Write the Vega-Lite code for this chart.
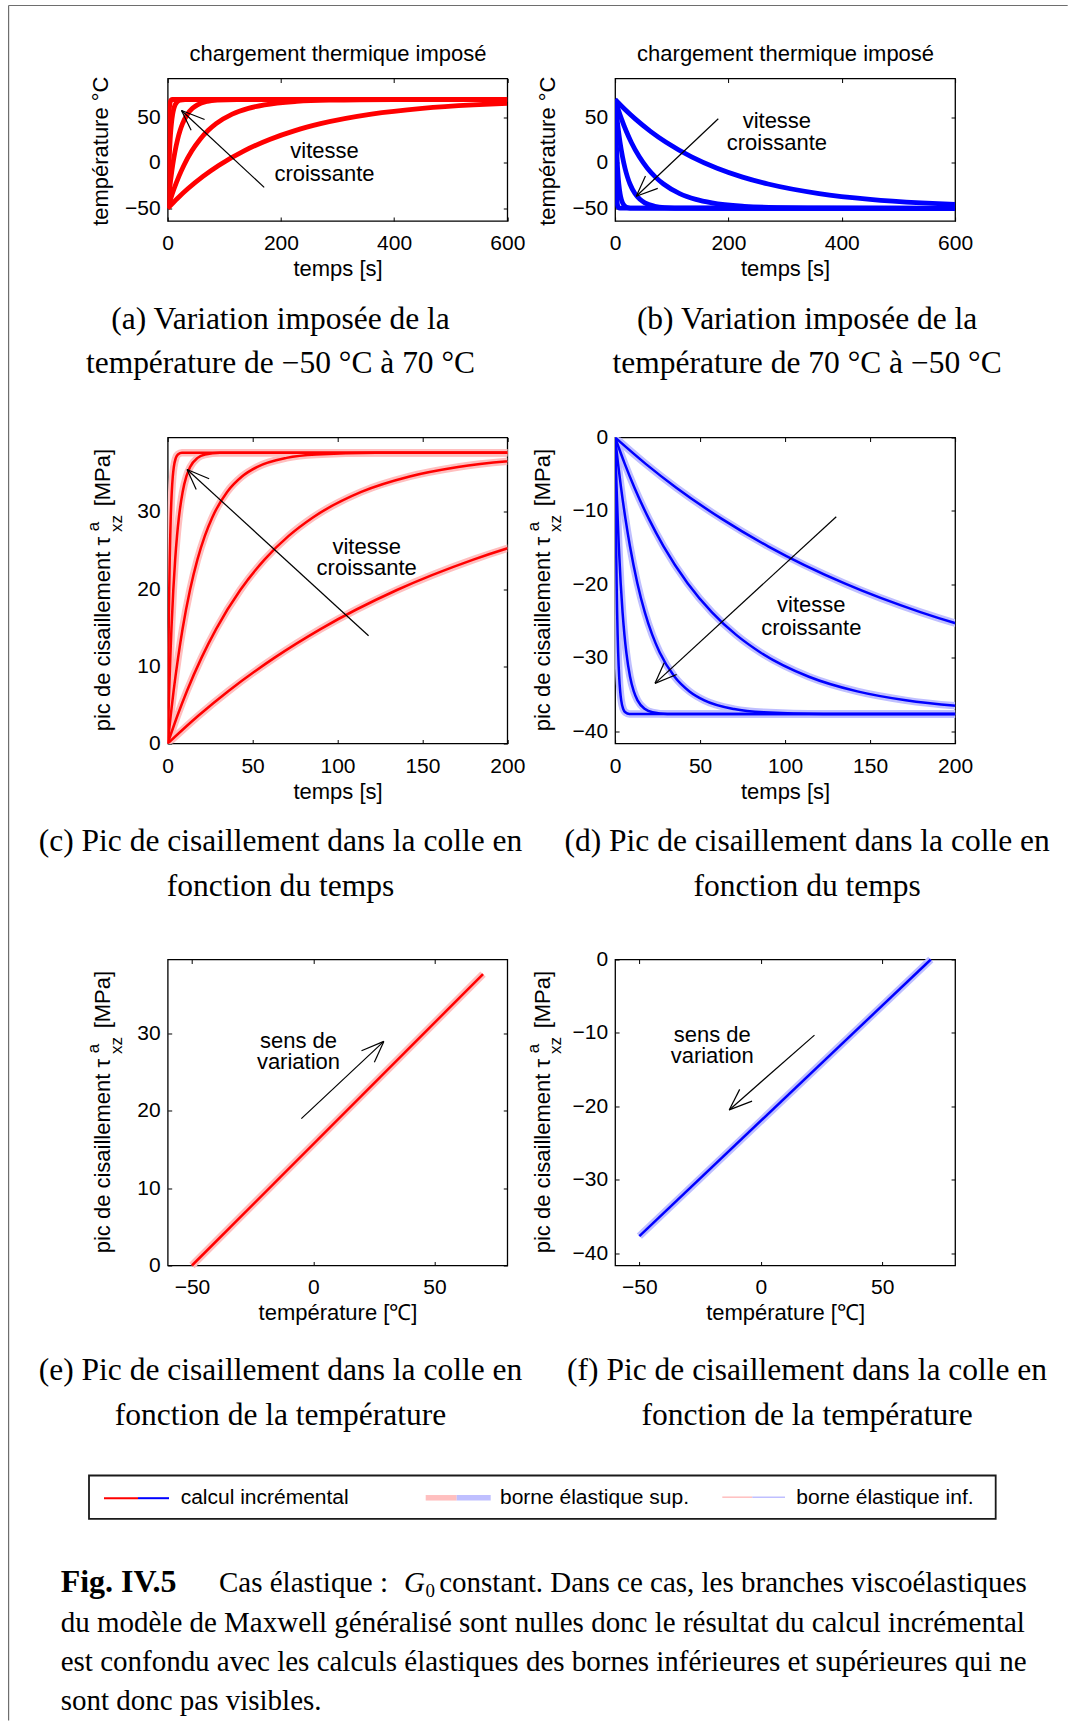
{
"$schema": "https://vega.github.io/schema/vega-lite/v6.json",
"background": "white",
"padding": {"left": 7.7, "top": 4.5, "right": 0, "bottom": 0},
"columns": 2,
"bounds": "flush",
"align": {"row": "each", "column": "none"},
"spacing": {"row": 216, "column": 107.4},
"datasets": {
"rampes": [
{"c":1,"t":0,"Ta":-50,"Tb":70,"cc":0,"cd":0},
{"c":1,"t":18,"Ta":-38.58,"Tb":58.58,"cc":3.59,"cd":-3.59},
{"c":1,"t":36,"Ta":-28.24,"Tb":48.24,"cc":6.84,"cd":-6.84},
{"c":1,"t":63,"Ta":-14.56,"Tb":34.56,"cc":11.13,"cd":-11.13},
{"c":1,"t":90,"Ta":-2.78,"Tb":22.78,"cc":14.83,"cd":-14.83},
{"c":1,"t":135,"Ta":13.31,"Tb":6.69,"cc":19.89,"cd":-19.89},
{"c":1,"t":180,"Ta":25.85,"Tb":-5.85,"cc":23.83,"cd":-23.83},
{"c":1,"t":225,"Ta":35.62,"Tb":-15.62,"cc":26.9,"cd":-26.9},
{"c":1,"t":270,"Ta":43.23,"Tb":-23.23,"cc":29.29,"cd":-29.29},
{"c":1,"t":360,"Ta":53.76,"Tb":-33.76,"cc":32.6,"cd":-32.6},
{"c":1,"t":450,"Ta":60.15,"Tb":-40.15,"cc":34.6,"cd":-34.6},
{"c":1,"t":540,"Ta":64.02,"Tb":-44.02,"cc":35.82,"cd":-35.82},
{"c":1,"t":600,"Ta":65.72,"Tb":-45.72,"cc":36.35,"cd":-36.35},
{"c":2,"t":0,"Ta":-50,"Tb":70,"cc":0,"cd":0},
{"c":2,"t":5.7,"Ta":-38.58,"Tb":58.58,"cc":3.59,"cd":-3.59},
{"c":2,"t":11.4,"Ta":-28.24,"Tb":48.24,"cc":6.84,"cd":-6.84},
{"c":2,"t":19.95,"Ta":-14.56,"Tb":34.56,"cc":11.13,"cd":-11.13},
{"c":2,"t":28.5,"Ta":-2.78,"Tb":22.78,"cc":14.83,"cd":-14.83},
{"c":2,"t":42.75,"Ta":13.31,"Tb":6.69,"cc":19.89,"cd":-19.89},
{"c":2,"t":57,"Ta":25.85,"Tb":-5.85,"cc":23.83,"cd":-23.83},
{"c":2,"t":71.25,"Ta":35.62,"Tb":-15.62,"cc":26.9,"cd":-26.9},
{"c":2,"t":85.5,"Ta":43.23,"Tb":-23.23,"cc":29.29,"cd":-29.29},
{"c":2,"t":114,"Ta":53.76,"Tb":-33.76,"cc":32.6,"cd":-32.6},
{"c":2,"t":142.5,"Ta":60.15,"Tb":-40.15,"cc":34.6,"cd":-34.6},
{"c":2,"t":171,"Ta":64.02,"Tb":-44.02,"cc":35.82,"cd":-35.82},
{"c":2,"t":228,"Ta":67.8,"Tb":-47.8,"cc":37.01,"cd":-37.01},
{"c":2,"t":285,"Ta":69.2,"Tb":-49.2,"cc":37.45,"cd":-37.45},
{"c":2,"t":399,"Ta":69.89,"Tb":-49.89,"cc":37.67,"cd":-37.67},
{"c":2,"t":600,"Ta":70,"Tb":-50,"cc":37.7,"cd":-37.7},
{"c":3,"t":0,"Ta":-50,"Tb":70,"cc":0,"cd":0},
{"c":3,"t":1.75,"Ta":-38.58,"Tb":58.58,"cc":3.59,"cd":-3.59},
{"c":3,"t":3.5,"Ta":-28.24,"Tb":48.24,"cc":6.84,"cd":-6.84},
{"c":3,"t":6.13,"Ta":-14.56,"Tb":34.56,"cc":11.13,"cd":-11.13},
{"c":3,"t":8.75,"Ta":-2.78,"Tb":22.78,"cc":14.83,"cd":-14.83},
{"c":3,"t":13.13,"Ta":13.31,"Tb":6.69,"cc":19.89,"cd":-19.89},
{"c":3,"t":17.5,"Ta":25.85,"Tb":-5.85,"cc":23.83,"cd":-23.83},
{"c":3,"t":21.88,"Ta":35.62,"Tb":-15.62,"cc":26.9,"cd":-26.9},
{"c":3,"t":26.25,"Ta":43.23,"Tb":-23.23,"cc":29.29,"cd":-29.29},
{"c":3,"t":35,"Ta":53.76,"Tb":-33.76,"cc":32.6,"cd":-32.6},
{"c":3,"t":43.75,"Ta":60.15,"Tb":-40.15,"cc":34.6,"cd":-34.6},
{"c":3,"t":52.5,"Ta":64.02,"Tb":-44.02,"cc":35.82,"cd":-35.82},
{"c":3,"t":70,"Ta":67.8,"Tb":-47.8,"cc":37.01,"cd":-37.01},
{"c":3,"t":87.5,"Ta":69.2,"Tb":-49.2,"cc":37.45,"cd":-37.45},
{"c":3,"t":122.5,"Ta":69.89,"Tb":-49.89,"cc":37.67,"cd":-37.67},
{"c":3,"t":600,"Ta":70,"Tb":-50,"cc":37.7,"cd":-37.7},
{"c":4,"t":0,"Ta":-50,"Tb":70,"cc":0,"cd":0},
{"c":4,"t":0.44,"Ta":-38.58,"Tb":58.58,"cc":3.59,"cd":-3.59},
{"c":4,"t":0.88,"Ta":-28.24,"Tb":48.24,"cc":6.84,"cd":-6.84},
{"c":4,"t":1.54,"Ta":-14.56,"Tb":34.56,"cc":11.13,"cd":-11.13},
{"c":4,"t":2.2,"Ta":-2.78,"Tb":22.78,"cc":14.83,"cd":-14.83},
{"c":4,"t":3.3,"Ta":13.31,"Tb":6.69,"cc":19.89,"cd":-19.89},
{"c":4,"t":4.4,"Ta":25.85,"Tb":-5.85,"cc":23.83,"cd":-23.83},
{"c":4,"t":5.5,"Ta":35.62,"Tb":-15.62,"cc":26.9,"cd":-26.9},
{"c":4,"t":6.6,"Ta":43.23,"Tb":-23.23,"cc":29.29,"cd":-29.29},
{"c":4,"t":8.8,"Ta":53.76,"Tb":-33.76,"cc":32.6,"cd":-32.6},
{"c":4,"t":11,"Ta":60.15,"Tb":-40.15,"cc":34.6,"cd":-34.6},
{"c":4,"t":13.2,"Ta":64.02,"Tb":-44.02,"cc":35.82,"cd":-35.82},
{"c":4,"t":17.6,"Ta":67.8,"Tb":-47.8,"cc":37.01,"cd":-37.01},
{"c":4,"t":22,"Ta":69.2,"Tb":-49.2,"cc":37.45,"cd":-37.45},
{"c":4,"t":30.8,"Ta":69.89,"Tb":-49.89,"cc":37.67,"cd":-37.67},
{"c":4,"t":600,"Ta":70,"Tb":-50,"cc":37.7,"cd":-37.7},
{"c":5,"t":0,"Ta":-50,"Tb":70,"cc":0,"cd":0},
{"c":5,"t":0.12,"Ta":-38.58,"Tb":58.58,"cc":3.59,"cd":-3.59},
{"c":5,"t":0.24,"Ta":-28.24,"Tb":48.24,"cc":6.84,"cd":-6.84},
{"c":5,"t":0.42,"Ta":-14.56,"Tb":34.56,"cc":11.13,"cd":-11.13},
{"c":5,"t":0.6,"Ta":-2.78,"Tb":22.78,"cc":14.83,"cd":-14.83},
{"c":5,"t":0.9,"Ta":13.31,"Tb":6.69,"cc":19.89,"cd":-19.89},
{"c":5,"t":1.2,"Ta":25.85,"Tb":-5.85,"cc":23.83,"cd":-23.83},
{"c":5,"t":1.5,"Ta":35.62,"Tb":-15.62,"cc":26.9,"cd":-26.9},
{"c":5,"t":1.8,"Ta":43.23,"Tb":-23.23,"cc":29.29,"cd":-29.29},
{"c":5,"t":2.4,"Ta":53.76,"Tb":-33.76,"cc":32.6,"cd":-32.6},
{"c":5,"t":3,"Ta":60.15,"Tb":-40.15,"cc":34.6,"cd":-34.6},
{"c":5,"t":3.6,"Ta":64.02,"Tb":-44.02,"cc":35.82,"cd":-35.82},
{"c":5,"t":4.8,"Ta":67.8,"Tb":-47.8,"cc":37.01,"cd":-37.01},
{"c":5,"t":6,"Ta":69.2,"Tb":-49.2,"cc":37.45,"cd":-37.45},
{"c":5,"t":8.4,"Ta":69.89,"Tb":-49.89,"cc":37.67,"cd":-37.67},
{"c":5,"t":600,"Ta":70,"Tb":-50,"cc":37.7,"cd":-37.7}
],
"lineaire": [
{"T":-50,"ce":0,"cf":-37.7},
{"T":70,"ce":37.7,"cf":0}
]
},
"concat": [
{
"width": 339.6, "height": 142.5,
"title": {"text": ["(a) Variation imposée de la", "température de −50 °C à 70 °C"], "dx": -57, "offset": 24},
"resolve": {"axis": {"x": "independent", "y": "independent"}},
"layer": [
{"data": {"name": "rampes"},
 "mark": {"type": "line", "stroke": "#ff0000", "strokeWidth": 4.8, "clip": true, "interpolate": "monotone"},
 "encoding": {
  "x": {"field": "t", "type": "quantitative", "scale": {"domain": [0, 600]}, "axis": {"orient": "bottom", "values": [0,200,400,600], "title": "temps [s]", "titleX": 169.8, "titleY": 54.5, "titleAlign": "center", "titleBaseline": "alphabetic", "titleAngle": 0}},
  "y": {"field": "Ta", "type": "quantitative", "scale": {"domain": [-64, 93]}, "axis": {"orient": "left", "values": [-50,0,50], "title": "température °C", "titleX": -60.2, "titleY": 72.2, "titleAngle": 270, "titleAlign": "center", "titleBaseline": "alphabetic"}},
  "detail": {"field": "c", "type": "nominal"}}},
{"data": {"values": [{}]}, "mark": "rule",
 "encoding": {
  "x": {"datum": 170.5, "scale": {"domain": [0, 600]}, "axis": {"orient": "top", "values": [0,200,400,600], "labels": false, "title": "chargement thermique imposé", "titleX": 169.8, "titleY": -17.8, "titleAlign": "center", "titleBaseline": "alphabetic", "titleAngle": 0}},
  "x2": {"datum": 24.4},
  "y": {"datum": -27, "scale": {"domain": [-64, 93]}, "axis": {"orient": "right", "values": [-50,0,50], "labels": false, "title": null}},
  "y2": {"datum": 57.8}}},
{"data": {"values": [{}]}, "mark": "rule",
 "encoding": {"x": {"datum": 24.4, "scale": {"domain": [0, 600]}, "axis": null}, "x2": {"datum": 65.2}, "y": {"datum": 57.8, "scale": {"domain": [-64, 93]}, "axis": null}, "y2": {"datum": 47.8}}},
{"data": {"values": [{}]}, "mark": "rule",
 "encoding": {"x": {"datum": 24.4, "scale": {"domain": [0, 600]}, "axis": null}, "x2": {"datum": 41.4}, "y": {"datum": 57.8, "scale": {"domain": [-64, 93]}, "axis": null}, "y2": {"datum": 35.9}}},
{"data": {"values": [{}]}, "mark": {"type": "text", "text": ["vitesse", "croissante"], "lineHeight": 22.4, "align": "center", "baseline": "alphabetic"},
 "encoding": {"x": {"datum": 277, "scale": {"domain": [0, 600]}, "axis": null}, "y": {"datum": 5.2, "scale": {"domain": [-64, 93]}, "axis": null}}}
]
},
{
"width": 340, "height": 142.5,
"title": {"text": ["(b) Variation imposée de la", "température de 70 °C à −50 °C"], "dx": 22, "offset": 24},
"resolve": {"axis": {"x": "independent", "y": "independent"}},
"layer": [
{"data": {"name": "rampes"},
 "mark": {"type": "line", "stroke": "#0000ff", "strokeWidth": 4.8, "clip": true, "interpolate": "monotone"},
 "encoding": {
  "x": {"field": "t", "type": "quantitative", "scale": {"domain": [0, 600]}, "axis": {"orient": "bottom", "values": [0,200,400,600], "title": "temps [s]", "titleX": 170, "titleY": 54.5, "titleAlign": "center", "titleBaseline": "alphabetic", "titleAngle": 0}},
  "y": {"field": "Tb", "type": "quantitative", "scale": {"domain": [-64, 93]}, "axis": {"orient": "left", "values": [-50,0,50], "title": "température °C", "titleX": -61, "titleY": 72.2, "titleAngle": 270, "titleAlign": "center", "titleBaseline": "alphabetic"}},
  "detail": {"field": "c", "type": "nominal"}}},
{"data": {"values": [{}]}, "mark": "rule",
 "encoding": {
  "x": {"datum": 182.1, "scale": {"domain": [0, 600]}, "axis": {"orient": "top", "values": [0,200,400,600], "labels": false, "title": "chargement thermique imposé", "titleX": 170, "titleY": -17.8, "titleAlign": "center", "titleBaseline": "alphabetic", "titleAngle": 0}},
  "x2": {"datum": 37.4},
  "y": {"datum": 48.6, "scale": {"domain": [-64, 93]}, "axis": {"orient": "right", "values": [-50,0,50], "labels": false, "title": null}},
  "y2": {"datum": -36.7}}},
{"data": {"values": [{}]}, "mark": "rule",
 "encoding": {"x": {"datum": 37.4, "scale": {"domain": [0, 600]}, "axis": null}, "x2": {"datum": 53.6}, "y": {"datum": -36.7, "scale": {"domain": [-64, 93]}, "axis": null}, "y2": {"datum": -14.4}}},
{"data": {"values": [{}]}, "mark": "rule",
 "encoding": {"x": {"datum": 37.4, "scale": {"domain": [0, 600]}, "axis": null}, "x2": {"datum": 75.3}, "y": {"datum": -36.7, "scale": {"domain": [-64, 93]}, "axis": null}, "y2": {"datum": -28.1}}},
{"data": {"values": [{}]}, "mark": {"type": "text", "text": ["vitesse", "croissante"], "lineHeight": 21.7, "align": "center", "baseline": "alphabetic"},
 "encoding": {"x": {"datum": 285.5, "scale": {"domain": [0, 600]}, "axis": null}, "y": {"datum": 38.6, "scale": {"domain": [-64, 93]}, "axis": null}}}
]
},
{
"width": 339.6, "height": 306,
"title": {"text": ["(c) Pic de cisaillement dans la colle en", "fonction du temps"], "dx": -57, "offset": 24},
"resolve": {"axis": {"x": "independent", "y": "independent"}},
"layer": [
{"data": {"name": "rampes"},
 "mark": {"type": "line", "stroke": "#ffbfbf", "strokeWidth": 7.5, "clip": true, "interpolate": "monotone"},
 "encoding": {
  "x": {"field": "t", "type": "quantitative", "scale": {"domain": [0, 200]}, "axis": {"orient": "bottom", "values": [0,50,100,150,200], "title": "temps [s]", "titleX": 169.8, "titleY": 54.5, "titleAlign": "center", "titleBaseline": "alphabetic", "titleAngle": 0}},
  "y": {"field": "cc", "type": "quantitative", "scale": {"domain": [0, 39.65]}, "axis": {"orient": "left", "values": [0,10,20,30], "title": "pic de cisaillement τ", "titleX": -57.8, "titleY": 293.3, "titleAngle": 270, "titleAlign": "left", "titleBaseline": "alphabetic"}},
  "detail": {"field": "c", "type": "nominal"}}},
{"data": {"name": "rampes"},
 "mark": {"type": "line", "stroke": "#ffbfbf", "strokeWidth": 1.5, "clip": true, "interpolate": "monotone"},
 "encoding": {
  "x": {"field": "t", "type": "quantitative", "scale": {"domain": [0, 200]}, "axis": {"orient": "top", "values": [0,50,100,150,200], "labels": false, "title": null}},
  "y": {"field": "cc", "type": "quantitative", "scale": {"domain": [0, 39.65]}, "axis": {"orient": "right", "values": [0,10,20,30], "labels": false, "title": null}},
  "detail": {"field": "c", "type": "nominal"}}},
{"data": {"name": "rampes"},
 "mark": {"type": "line", "stroke": "#ff0000", "strokeWidth": 2.5, "clip": true, "interpolate": "monotone"},
 "encoding": {
  "x": {"field": "t", "type": "quantitative", "scale": {"domain": [0, 200]}, "axis": null},
  "y": {"field": "cc", "type": "quantitative", "scale": {"domain": [0, 39.65]}, "axis": {"orient": "left", "ticks": false, "labels": false, "title": "a", "titleX": -68.8, "titleY": 93.3, "titleAngle": 270, "titleAlign": "left", "titleBaseline": "alphabetic", "titleFontSize": 17}},
  "detail": {"field": "c", "type": "nominal"}}},
{"data": {"values": [{}]}, "mark": "rule",
 "encoding": {"x": {"datum": 118.3, "scale": {"domain": [0, 200]}, "axis": null}, "x2": {"datum": 11.4},
  "y": {"datum": 13.97, "scale": {"domain": [0, 39.65]}, "axis": {"orient": "left", "ticks": false, "labels": false, "title": "xz", "titleX": -46.5, "titleY": 94, "titleAngle": 270, "titleAlign": "left", "titleBaseline": "alphabetic", "titleFontSize": 17}}, "y2": {"datum": 35.5}}},
{"data": {"values": [{}]}, "mark": "rule",
 "encoding": {"x": {"datum": 11.4, "scale": {"domain": [0, 200]}, "axis": null}, "x2": {"datum": 24.4},
  "y": {"datum": 35.5, "scale": {"domain": [0, 39.65]}, "axis": {"orient": "left", "ticks": false, "labels": false, "title": "[MPa]", "titleX": -57.8, "titleY": 68.3, "titleAngle": 270, "titleAlign": "left", "titleBaseline": "alphabetic"}}, "y2": {"datum": 34.3}}},
{"data": {"values": [{}]}, "mark": "rule",
 "encoding": {"x": {"datum": 11.4, "scale": {"domain": [0, 200]}, "axis": null}, "x2": {"datum": 16.8}, "y": {"datum": 35.5, "scale": {"domain": [0, 39.65]}, "axis": null}, "y2": {"datum": 32.9}}},
{"data": {"values": [{}]}, "mark": {"type": "text", "text": ["vitesse", "croissante"], "lineHeight": 21.7, "align": "center", "baseline": "alphabetic"},
 "encoding": {"x": {"datum": 117.2, "scale": {"domain": [0, 200]}, "axis": null}, "y": {"datum": 24.6, "scale": {"domain": [0, 39.65]}, "axis": null}}}
]
},
{
"width": 340, "height": 306,
"title": {"text": ["(d) Pic de cisaillement dans la colle en", "fonction du temps"], "dx": 22, "offset": 24},
"resolve": {"axis": {"x": "independent", "y": "independent"}},
"layer": [
{"data": {"name": "rampes"},
 "mark": {"type": "line", "stroke": "#bfbfff", "strokeWidth": 7.5, "clip": true, "interpolate": "monotone"},
 "encoding": {
  "x": {"field": "t", "type": "quantitative", "scale": {"domain": [0, 200]}, "axis": {"orient": "bottom", "values": [0,50,100,150,200], "title": "temps [s]", "titleX": 170, "titleY": 54.5, "titleAlign": "center", "titleBaseline": "alphabetic", "titleAngle": 0}},
  "y": {"field": "cd", "type": "quantitative", "scale": {"domain": [-41.7, 0]}, "axis": {"orient": "left", "values": [-40,-30,-20,-10,0], "title": "pic de cisaillement τ", "titleX": -66, "titleY": 293.3, "titleAngle": 270, "titleAlign": "left", "titleBaseline": "alphabetic"}},
  "detail": {"field": "c", "type": "nominal"}}},
{"data": {"name": "rampes"},
 "mark": {"type": "line", "stroke": "#bfbfff", "strokeWidth": 1.5, "clip": true, "interpolate": "monotone"},
 "encoding": {
  "x": {"field": "t", "type": "quantitative", "scale": {"domain": [0, 200]}, "axis": {"orient": "top", "values": [0,50,100,150,200], "labels": false, "title": null}},
  "y": {"field": "cd", "type": "quantitative", "scale": {"domain": [-41.7, 0]}, "axis": {"orient": "right", "values": [-40,-30,-20,-10,0], "labels": false, "title": null}},
  "detail": {"field": "c", "type": "nominal"}}},
{"data": {"name": "rampes"},
 "mark": {"type": "line", "stroke": "#0000ff", "strokeWidth": 2.5, "clip": true, "interpolate": "monotone"},
 "encoding": {
  "x": {"field": "t", "type": "quantitative", "scale": {"domain": [0, 200]}, "axis": null},
  "y": {"field": "cd", "type": "quantitative", "scale": {"domain": [-41.7, 0]}, "axis": {"orient": "left", "ticks": false, "labels": false, "title": "a", "titleX": -77, "titleY": 93.3, "titleAngle": 270, "titleAlign": "left", "titleBaseline": "alphabetic", "titleFontSize": 17}},
  "detail": {"field": "c", "type": "nominal"}}},
{"data": {"values": [{}]}, "mark": "rule",
 "encoding": {"x": {"datum": 130.1, "scale": {"domain": [0, 200]}, "axis": null}, "x2": {"datum": 23.5},
  "y": {"datum": -10.8, "scale": {"domain": [-41.7, 0]}, "axis": {"orient": "left", "ticks": false, "labels": false, "title": "xz", "titleX": -54.7, "titleY": 94, "titleAngle": 270, "titleAlign": "left", "titleBaseline": "alphabetic", "titleFontSize": 17}}, "y2": {"datum": -33.5}}},
{"data": {"values": [{}]}, "mark": "rule",
 "encoding": {"x": {"datum": 23.5, "scale": {"domain": [0, 200]}, "axis": null}, "x2": {"datum": 28.9},
  "y": {"datum": -33.5, "scale": {"domain": [-41.7, 0]}, "axis": {"orient": "left", "ticks": false, "labels": false, "title": "[MPa]", "titleX": -66, "titleY": 68.3, "titleAngle": 270, "titleAlign": "left", "titleBaseline": "alphabetic"}}, "y2": {"datum": -30.7}}},
{"data": {"values": [{}]}, "mark": "rule",
 "encoding": {"x": {"datum": 23.5, "scale": {"domain": [0, 200]}, "axis": null}, "x2": {"datum": 36.2}, "y": {"datum": -33.5, "scale": {"domain": [-41.7, 0]}, "axis": null}, "y2": {"datum": -32.3}}},
{"data": {"values": [{}]}, "mark": {"type": "text", "text": ["vitesse", "croissante"], "lineHeight": 22.4, "align": "center", "baseline": "alphabetic"},
 "encoding": {"x": {"datum": 115.4, "scale": {"domain": [0, 200]}, "axis": null}, "y": {"datum": -23.8, "scale": {"domain": [-41.7, 0]}, "axis": null}}}
]
},
{
"width": 339.6, "height": 306,
"title": {"text": ["(e) Pic de cisaillement dans la colle en", "fonction de la température"], "dx": -57, "offset": 31.5},
"resolve": {"axis": {"x": "independent", "y": "independent"}},
"layer": [
{"data": {"name": "lineaire"},
 "mark": {"type": "line", "stroke": "#ffbfbf", "strokeWidth": 7.5},
 "encoding": {
  "x": {"field": "T", "type": "quantitative", "scale": {"domain": [-60, 80]}, "axis": {"orient": "bottom", "values": [-50,0,50], "title": "température [℃]", "titleX": 169.8, "titleY": 54.5, "titleAlign": "center", "titleBaseline": "alphabetic", "titleAngle": 0}},
  "y": {"field": "ce", "type": "quantitative", "scale": {"domain": [0, 39.6]}, "axis": {"orient": "left", "values": [0,10,20,30], "title": "pic de cisaillement τ", "titleX": -57.8, "titleY": 293.3, "titleAngle": 270, "titleAlign": "left", "titleBaseline": "alphabetic"}}}},
{"data": {"name": "lineaire"},
 "mark": {"type": "line", "stroke": "#ffbfbf", "strokeWidth": 1.5},
 "encoding": {
  "x": {"field": "T", "type": "quantitative", "scale": {"domain": [-60, 80]}, "axis": {"orient": "top", "values": [-50,0,50], "labels": false, "title": null}},
  "y": {"field": "ce", "type": "quantitative", "scale": {"domain": [0, 39.6]}, "axis": {"orient": "right", "values": [0,10,20,30], "labels": false, "title": null}}}},
{"data": {"name": "lineaire"},
 "mark": {"type": "line", "stroke": "#ff0000", "strokeWidth": 2.5},
 "encoding": {
  "x": {"field": "T", "type": "quantitative", "scale": {"domain": [-60, 80]}, "axis": null},
  "y": {"field": "ce", "type": "quantitative", "scale": {"domain": [0, 39.6]}, "axis": {"orient": "left", "ticks": false, "labels": false, "title": "a", "titleX": -68.8, "titleY": 93.3, "titleAngle": 270, "titleAlign": "left", "titleBaseline": "alphabetic", "titleFontSize": 17}}}},
{"data": {"values": [{}]}, "mark": "rule",
 "encoding": {"x": {"datum": -4.9, "scale": {"domain": [-60, 80]}, "axis": null}, "x2": {"datum": 29.1},
  "y": {"datum": 19.0, "scale": {"domain": [0, 39.6]}, "axis": {"orient": "left", "ticks": false, "labels": false, "title": "xz", "titleX": -46.5, "titleY": 94, "titleAngle": 270, "titleAlign": "left", "titleBaseline": "alphabetic", "titleFontSize": 17}}, "y2": {"datum": 29.0}}},
{"data": {"values": [{}]}, "mark": "rule",
 "encoding": {"x": {"datum": 29.1, "scale": {"domain": [-60, 80]}, "axis": null}, "x2": {"datum": 19.9},
  "y": {"datum": 29.0, "scale": {"domain": [0, 39.6]}, "axis": {"orient": "left", "ticks": false, "labels": false, "title": "[MPa]", "titleX": -57.8, "titleY": 68.3, "titleAngle": 270, "titleAlign": "left", "titleBaseline": "alphabetic"}}, "y2": {"datum": 27.8}}},
{"data": {"values": [{}]}, "mark": "rule",
 "encoding": {"x": {"datum": 29.1, "scale": {"domain": [-60, 80]}, "axis": null}, "x2": {"datum": 25.2}, "y": {"datum": 29.0, "scale": {"domain": [0, 39.6]}, "axis": null}, "y2": {"datum": 26.3}}},
{"data": {"values": [{}]}, "mark": {"type": "text", "text": ["sens de", "variation"], "lineHeight": 21.7, "align": "center", "baseline": "alphabetic"},
 "encoding": {"x": {"datum": -6.1, "scale": {"domain": [-60, 80]}, "axis": null}, "y": {"datum": 28.2, "scale": {"domain": [0, 39.6]}, "axis": null}}}
]
},
{
"width": 340, "height": 306,
"title": {"text": ["(f) Pic de cisaillement dans la colle en", "fonction de la température"], "dx": 22, "offset": 31.5},
"resolve": {"axis": {"x": "independent", "y": "independent"}},
"layer": [
{"data": {"name": "lineaire"},
 "mark": {"type": "line", "stroke": "#bfbfff", "strokeWidth": 7.5},
 "encoding": {
  "x": {"field": "T", "type": "quantitative", "scale": {"domain": [-60, 80]}, "axis": {"orient": "bottom", "values": [-50,0,50], "title": "température [℃]", "titleX": 170, "titleY": 54.5, "titleAlign": "center", "titleBaseline": "alphabetic", "titleAngle": 0}},
  "y": {"field": "cf", "type": "quantitative", "scale": {"domain": [-41.7, 0]}, "axis": {"orient": "left", "values": [-40,-30,-20,-10,0], "title": "pic de cisaillement τ", "titleX": -66, "titleY": 293.3, "titleAngle": 270, "titleAlign": "left", "titleBaseline": "alphabetic"}}}},
{"data": {"name": "lineaire"},
 "mark": {"type": "line", "stroke": "#bfbfff", "strokeWidth": 1.5},
 "encoding": {
  "x": {"field": "T", "type": "quantitative", "scale": {"domain": [-60, 80]}, "axis": {"orient": "top", "values": [-50,0,50], "labels": false, "title": null}},
  "y": {"field": "cf", "type": "quantitative", "scale": {"domain": [-41.7, 0]}, "axis": {"orient": "right", "values": [-40,-30,-20,-10,0], "labels": false, "title": null}}}},
{"data": {"name": "lineaire"},
 "mark": {"type": "line", "stroke": "#0000ff", "strokeWidth": 2.5},
 "encoding": {
  "x": {"field": "T", "type": "quantitative", "scale": {"domain": [-60, 80]}, "axis": null},
  "y": {"field": "cf", "type": "quantitative", "scale": {"domain": [-41.7, 0]}, "axis": {"orient": "left", "ticks": false, "labels": false, "title": "a", "titleX": -77, "titleY": 93.3, "titleAngle": 270, "titleAlign": "left", "titleBaseline": "alphabetic", "titleFontSize": 17}}}},
{"data": {"values": [{}]}, "mark": "rule",
 "encoding": {"x": {"datum": 22.1, "scale": {"domain": [-60, 80]}, "axis": null}, "x2": {"datum": -13.0},
  "y": {"datum": -10.3, "scale": {"domain": [-41.7, 0]}, "axis": {"orient": "left", "ticks": false, "labels": false, "title": "xz", "titleX": -54.7, "titleY": 94, "titleAngle": 270, "titleAlign": "left", "titleBaseline": "alphabetic", "titleFontSize": 17}}, "y2": {"datum": -20.5}}},
{"data": {"values": [{}]}, "mark": "rule",
 "encoding": {"x": {"datum": -13.0, "scale": {"domain": [-60, 80]}, "axis": null}, "x2": {"datum": -8.7},
  "y": {"datum": -20.5, "scale": {"domain": [-41.7, 0]}, "axis": {"orient": "left", "ticks": false, "labels": false, "title": "[MPa]", "titleX": -66, "titleY": 68.3, "titleAngle": 270, "titleAlign": "left", "titleBaseline": "alphabetic"}}, "y2": {"datum": -17.7}}},
{"data": {"values": [{}]}, "mark": "rule",
 "encoding": {"x": {"datum": -13.0, "scale": {"domain": [-60, 80]}, "axis": null}, "x2": {"datum": -3.6}, "y": {"datum": -20.5, "scale": {"domain": [-41.7, 0]}, "axis": null}, "y2": {"datum": -19.3}}},
{"data": {"values": [{}]}, "mark": {"type": "text", "text": ["sens de", "variation"], "lineHeight": 21.6, "align": "center", "baseline": "alphabetic"},
 "encoding": {"x": {"datum": -20.0, "scale": {"domain": [-60, 80]}, "axis": null}, "y": {"datum": -11.2, "scale": {"domain": [-41.7, 0]}, "axis": null}}}
]
},
{
"width": 339.6, "height": 38,
"view": {"stroke": null},
"data": {"values": [{}]},
"layer": [
{"mark": {"type": "rule", "stroke": "#6e6e6e", "strokeWidth": 1.2},
 "encoding": {"x": {"datum": -159.1, "scale": {"domain": [0, 339.6]}, "axis": null}, "y": {"datum": -1476, "scale": {"domain": [0, 38], "reverse": true}, "axis": null}, "y2": {"datum": 239}}},
{"mark": {"type": "rule", "stroke": "#6e6e6e", "strokeWidth": 1.2},
 "encoding": {"x": {"datum": -159.1, "scale": {"domain": [0, 339.6]}, "axis": null}, "x2": {"datum": 900}, "y": {"datum": -1476, "scale": {"domain": [0, 38], "reverse": true}, "axis": null}}},
{"mark": {"type": "rect", "fill": "white", "stroke": "#1a1a1a", "strokeWidth": 1.8},
 "encoding": {"x": {"datum": -78.7, "scale": {"domain": [0, 339.6]}, "axis": null}, "x2": {"datum": 828}, "y": {"datum": -6, "scale": {"domain": [0, 38], "reverse": true}, "axis": null}, "y2": {"datum": 37.3}}},
{"mark": {"type": "rule", "stroke": "#ff0000", "strokeWidth": 2},
 "encoding": {"x": {"datum": -63.7, "scale": {"domain": [0, 339.6]}, "axis": null}, "x2": {"datum": -29.7}, "y": {"datum": 16.7, "scale": {"domain": [0, 38], "reverse": true}, "axis": null}}},
{"mark": {"type": "rule", "stroke": "#0000ff", "strokeWidth": 2},
 "encoding": {"x": {"datum": -29.7, "scale": {"domain": [0, 339.6]}, "axis": null}, "x2": {"datum": 1.3}, "y": {"datum": 16.7, "scale": {"domain": [0, 38], "reverse": true}, "axis": null}}},
{"mark": {"type": "text", "text": "calcul incrémental", "align": "left", "baseline": "alphabetic", "fontSize": 21},
 "encoding": {"x": {"datum": 13, "scale": {"domain": [0, 339.6]}, "axis": null}, "y": {"datum": 22.3, "scale": {"domain": [0, 38], "reverse": true}, "axis": null}}},
{"mark": {"type": "rule", "stroke": "#ffbfbf", "strokeWidth": 5.5},
 "encoding": {"x": {"datum": 258, "scale": {"domain": [0, 339.6]}, "axis": null}, "x2": {"datum": 289}, "y": {"datum": 16.3, "scale": {"domain": [0, 38], "reverse": true}, "axis": null}}},
{"mark": {"type": "rule", "stroke": "#bfbfff", "strokeWidth": 5.5},
 "encoding": {"x": {"datum": 289, "scale": {"domain": [0, 339.6]}, "axis": null}, "x2": {"datum": 323}, "y": {"datum": 16.3, "scale": {"domain": [0, 38], "reverse": true}, "axis": null}}},
{"mark": {"type": "text", "text": "borne élastique sup.", "align": "left", "baseline": "alphabetic", "fontSize": 21},
 "encoding": {"x": {"datum": 332.3, "scale": {"domain": [0, 339.6]}, "axis": null}, "y": {"datum": 22.3, "scale": {"domain": [0, 38], "reverse": true}, "axis": null}}},
{"mark": {"type": "rule", "stroke": "#ffbfbf", "strokeWidth": 1.5},
 "encoding": {"x": {"datum": 554.6, "scale": {"domain": [0, 339.6]}, "axis": null}, "x2": {"datum": 584.6}, "y": {"datum": 15.7, "scale": {"domain": [0, 38], "reverse": true}, "axis": null}}},
{"mark": {"type": "rule", "stroke": "#bfbfff", "strokeWidth": 1.5},
 "encoding": {"x": {"datum": 584.6, "scale": {"domain": [0, 339.6]}, "axis": null}, "x2": {"datum": 617.3}, "y": {"datum": 15.7, "scale": {"domain": [0, 38], "reverse": true}, "axis": null}}},
{"mark": {"type": "text", "text": "borne élastique inf.", "align": "left", "baseline": "alphabetic", "fontSize": 21},
 "encoding": {"x": {"datum": 628.6, "scale": {"domain": [0, 339.6]}, "axis": null}, "y": {"datum": 22.3, "scale": {"domain": [0, 38], "reverse": true}, "axis": null}}},
{"mark": {"type": "text", "text": "Fig. IV.5", "align": "left", "baseline": "alphabetic", "font": "Liberation Serif", "fontSize": 32, "fontWeight": "bold"},
 "encoding": {"x": {"datum": -107, "scale": {"domain": [0, 339.6]}, "axis": null}, "y": {"datum": 111, "scale": {"domain": [0, 38], "reverse": true}, "axis": null}}},
{"mark": {"type": "text", "text": "Cas élastique :", "align": "left", "baseline": "alphabetic", "font": "Liberation Serif", "fontSize": 29},
 "encoding": {"x": {"datum": 51.3, "scale": {"domain": [0, 339.6]}, "axis": null}, "y": {"datum": 111, "scale": {"domain": [0, 38], "reverse": true}, "axis": null}}},
{"mark": {"type": "text", "text": "G", "align": "left", "baseline": "alphabetic", "font": "Liberation Serif", "fontSize": 29, "fontStyle": "italic"},
 "encoding": {"x": {"datum": 236.3, "scale": {"domain": [0, 339.6]}, "axis": null}, "y": {"datum": 111, "scale": {"domain": [0, 38], "reverse": true}, "axis": null}}},
{"mark": {"type": "text", "text": "0", "align": "left", "baseline": "alphabetic", "font": "Liberation Serif", "fontSize": 19},
 "encoding": {"x": {"datum": 257.8, "scale": {"domain": [0, 339.6]}, "axis": null}, "y": {"datum": 116, "scale": {"domain": [0, 38], "reverse": true}, "axis": null}}},
{"mark": {"type": "text", "text": "constant. Dans ce cas, les branches viscoélastiques", "align": "left", "baseline": "alphabetic", "font": "Liberation Serif", "fontSize": 29},
 "encoding": {"x": {"datum": 271.5, "scale": {"domain": [0, 339.6]}, "axis": null}, "y": {"datum": 111, "scale": {"domain": [0, 38], "reverse": true}, "axis": null}}},
{"mark": {"type": "text", "text": "du modèle de Maxwell généralisé sont nulles donc le résultat du calcul incrémental", "align": "left", "baseline": "alphabetic", "font": "Liberation Serif", "fontSize": 29},
 "encoding": {"x": {"datum": -107, "scale": {"domain": [0, 339.6]}, "axis": null}, "y": {"datum": 150.3, "scale": {"domain": [0, 38], "reverse": true}, "axis": null}}},
{"mark": {"type": "text", "text": "est confondu avec les calculs élastiques des bornes inférieures et supérieures qui ne", "align": "left", "baseline": "alphabetic", "font": "Liberation Serif", "fontSize": 29},
 "encoding": {"x": {"datum": -107, "scale": {"domain": [0, 339.6]}, "axis": null}, "y": {"datum": 189.6, "scale": {"domain": [0, 38], "reverse": true}, "axis": null}}},
{"mark": {"type": "text", "text": "sont donc pas visibles.", "align": "left", "baseline": "alphabetic", "font": "Liberation Serif", "fontSize": 29},
 "encoding": {"x": {"datum": -107, "scale": {"domain": [0, 339.6]}, "axis": null}, "y": {"datum": 228.9, "scale": {"domain": [0, 38], "reverse": true}, "axis": null}}}
]
}
],
"config": {
"view": {"stroke": "#000000", "strokeWidth": 1.3},
"font": "Liberation Sans",
"axis": {"domain": false, "grid": false, "tickSize": -4, "tickColor": "#000000", "tickWidth": 1, "labelFont": "Liberation Sans", "labelFontSize": 21, "labelColor": "#000000", "labelFlush": false, "labelOverlap": false, "titleFont": "Liberation Sans", "titleFontSize": 22, "titleFontWeight": "normal", "titleColor": "#000000"},
"axisBottom": {"labelPadding": 15.5},
"axisLeft": {"labelPadding": 11.5},
"title": {"font": "Liberation Serif", "fontSize": 31.5, "fontWeight": "normal", "color": "#000000", "lineHeight": 45, "orient": "bottom", "anchor": "middle", "frame": "group", "baseline": "alphabetic"},
"text": {"font": "Liberation Sans", "fontSize": 22, "color": "#000000"},
"rule": {"color": "#000000", "strokeWidth": 1.2}
}
}
